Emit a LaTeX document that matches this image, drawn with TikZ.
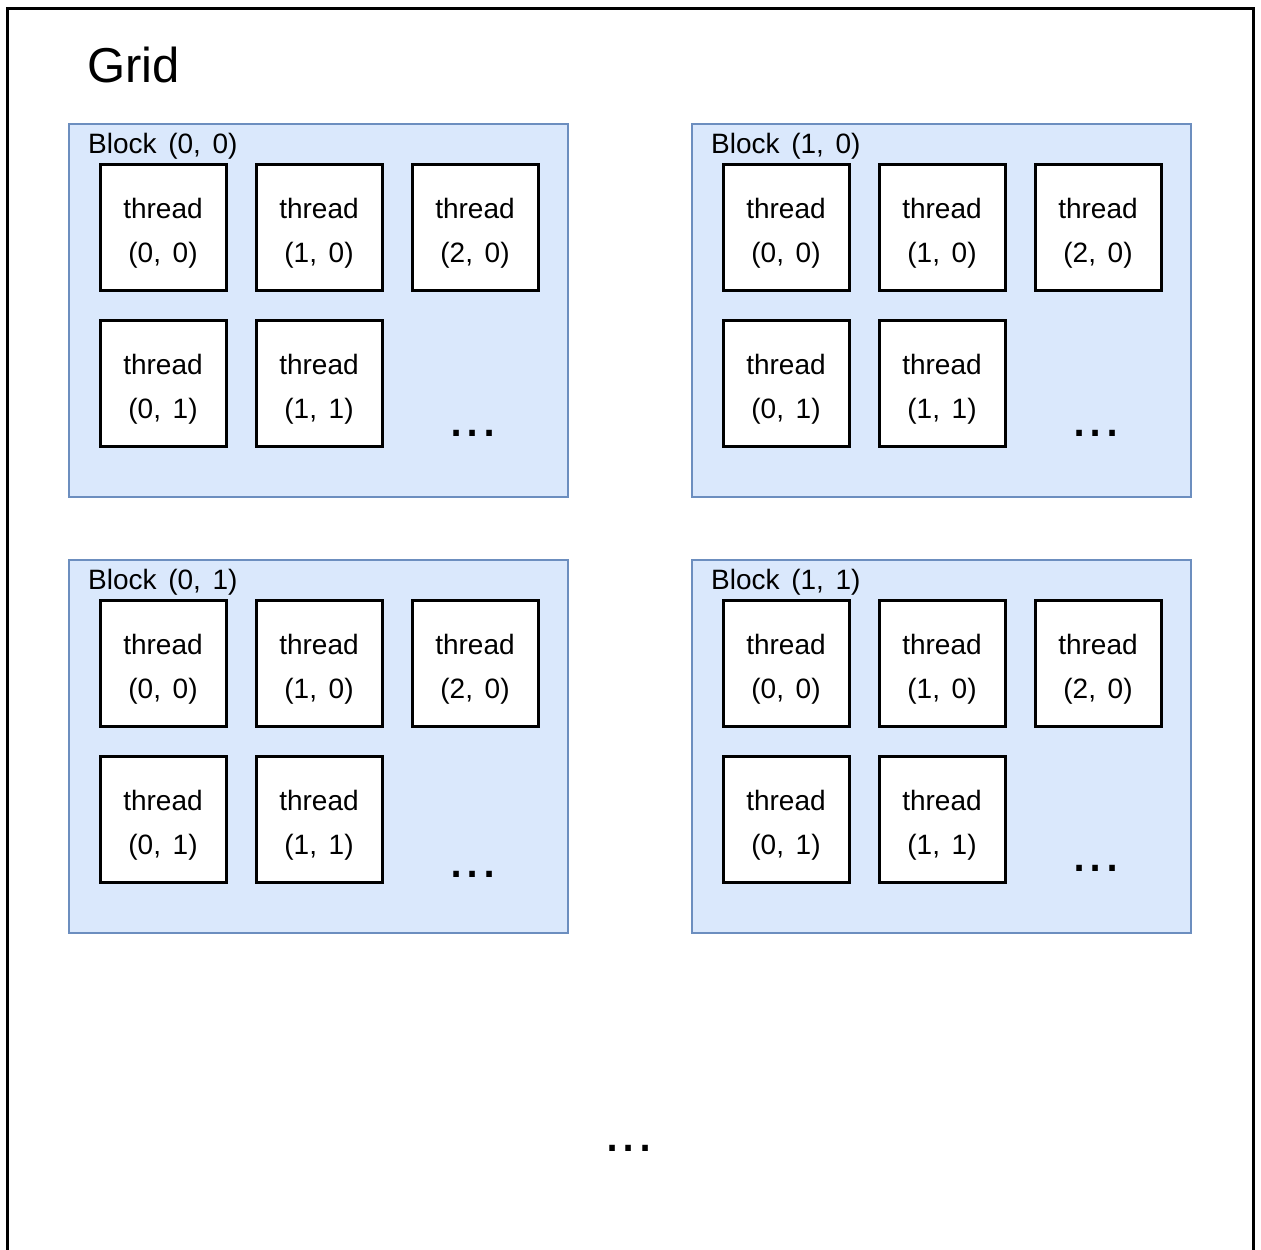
\documentclass[tikz,border=0pt]{standalone}
\usepackage{fontspec}
\setmainfont[WordSpace=1.5]{Liberation Sans}
\definecolor{blockfill}{HTML}{DAE8FC}
\definecolor{blockline}{HTML}{6C8EBF}
\tikzset{
  gridframe/.style={draw=black, line width=3pt},
  blockbox/.style={draw=blockline, fill=blockfill, line width=2.5pt, minimum width=499pt, minimum height=373pt, inner sep=0pt, outer sep=0pt, anchor=north west},
  threadbox/.style={draw=black, fill=white, line width=3pt, minimum size=126pt, inner sep=0pt, outer sep=0pt, anchor=north west},
  threadtext/.style={font=\fontsize{28}{30}\selectfont, inner sep=0pt, anchor=base},
  blocklabel/.style={font=\fontsize{28}{30}\selectfont, inner sep=0pt, anchor=base west},
  gridlabel/.style={font=\fontsize{49}{52}\selectfont, inner sep=0pt, anchor=base west},
  dotstext/.style={font=\fontsize{58}{60}\selectfont, inner sep=0pt, anchor=base}
}
\begin{document}
\begin{tikzpicture}[x=1pt,y=-1pt]
\useasboundingbox (0,0) rectangle (1261,1250);
\coordinate (fbl) at (7.5,1252);
\coordinate (ftl) at (7.5,8.5);
\coordinate (ftr) at (1253,8.5);
\coordinate (fbr) at (1253,1252);
\draw[gridframe] (fbl) -- (ftl) -- (ftr) -- (fbr);
\node[gridlabel] (gridtitle) at (87,82) {Grid};
\foreach \bi/\bx/\by/\bn/\dy in {a/69/124/{0, 0}/312, b/692/124/{1, 0}/312, c/69/560/{0, 1}/317, d/692/560/{1, 1}/311} {
  \node[blockbox] (blk-\bi) at (\bx,\by) {};
  \node[blocklabel] (blklab-\bi) at (\bx+19,\by+29) {Block (\bn)};
  \foreach \cx/\cy in {0/0,1/0,2/0,0/1,1/1} {
    \pgfmathsetmacro\tx{\bx+31+156*\cx}
    \pgfmathsetmacro\ty{\by+40+156*\cy}
    \node[threadbox] (thr-\bi-\cx\cy) at (\tx,\ty) {};
    \node[threadtext] (thrA-\bi-\cx\cy) at (\tx+63,\ty+54) {thread};
    \node[threadtext] (thrB-\bi-\cx\cy) at (\tx+63,\ty+98) {(\cx, \cy)};
  }
  \node[dotstext] (dots-\bi) at (\bx+404,\by+\dy) {...};
}
\node[dotstext] (dots-more) at (629,1151) {...};
\end{tikzpicture}
\end{document}
